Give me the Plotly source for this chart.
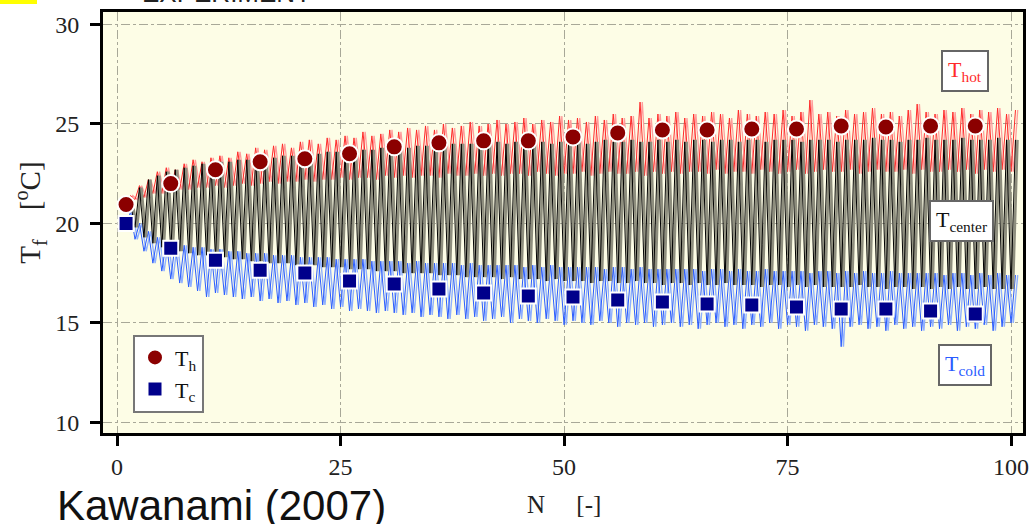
import numpy as np
import plotly.graph_objects as go

# ---------------- data ----------------
cycles = list(range(1, 101))

hot_peak = [21.4, 21.9, 22.2, 22.6, 22.8, 22.7, 23.0, 23.2, 23.1, 23.3,
            23.4, 23.3, 23.6, 23.5, 23.8, 23.7, 23.9, 24.0, 23.8, 24.1,
            24.2, 24.0, 24.3, 24.2, 24.4, 24.3, 24.6, 24.4, 24.5, 24.7,
            24.6, 24.8, 24.7, 24.9, 24.7, 25.0, 24.8, 24.9, 25.1, 24.9,
            25.0, 25.2, 25.0, 25.1, 25.3, 25.0, 25.2, 25.1, 25.4, 25.2,
            25.3, 25.1, 25.4, 25.2, 25.5, 25.3, 25.4, 26.1, 25.3, 25.5,
            25.4, 25.6, 25.3, 25.5, 25.4, 25.6, 25.5, 25.3, 25.7, 25.5,
            25.4, 25.6, 25.5, 25.7, 25.4, 25.6, 26.2, 25.5, 25.6, 25.4,
            25.7, 25.5, 25.6, 25.8, 25.5, 25.6, 25.4, 25.7, 26.0, 25.6,
            25.5, 25.7, 25.6, 25.8, 25.5, 25.7, 25.6, 25.8, 25.5, 25.7]
hot_trough = [20.9, 21.2, 21.3, 21.5, 21.5, 21.6, 21.7, 21.7, 21.8, 21.8,
              21.9, 21.8, 21.9, 22.0, 21.9, 22.0, 22.1, 22.0, 22.1, 22.1,
              22.2, 22.1, 22.2, 22.2, 22.3, 22.2, 22.3, 22.3, 22.2, 22.4,
              22.3, 22.4, 22.3, 22.4, 22.4, 22.3, 22.5, 22.4, 22.4, 22.5,
              22.4, 22.5, 22.4, 22.5, 22.5, 22.4, 22.6, 22.5, 22.4, 22.5,
              22.5, 22.6, 22.4, 22.5, 22.6, 22.5, 22.5, 22.6, 22.4, 22.6,
              22.5, 22.6, 22.5, 22.6, 22.6, 22.5, 22.7, 22.5, 22.6, 22.6,
              22.5, 22.7, 22.6, 22.5, 22.6, 22.7, 22.5, 22.6, 22.7, 22.6,
              22.6, 22.7, 22.5, 22.6, 22.7, 22.6, 22.6, 22.7, 22.5, 22.7,
              22.6, 22.6, 22.7, 22.6, 22.7, 22.5, 22.7, 22.6, 22.7, 22.6]

center_peak = [21.0, 21.8, 22.2, 22.4, 22.6, 22.7, 22.8, 22.9, 23.0, 23.0,
               23.1, 23.1, 23.2, 23.2, 23.3, 23.3, 23.3, 23.4, 23.4, 23.5,
               23.5, 23.5, 23.6, 23.6, 23.6, 23.7, 23.7, 23.7, 23.8, 23.8,
               23.8, 23.8, 23.9, 23.9, 23.9, 23.9, 24.0, 24.0, 24.0, 24.0,
               24.0, 24.1, 24.0, 24.1, 24.0, 24.1, 24.1, 24.0, 24.1, 24.1,
               24.1, 24.0, 24.1, 24.2, 24.1, 24.1, 24.2, 24.1, 24.1, 24.2,
               24.1, 24.2, 24.1, 24.2, 24.2, 24.1, 24.2, 24.2, 24.1, 24.2,
               24.2, 24.1, 24.2, 24.2, 24.2, 24.1, 24.2, 24.2, 24.2, 24.1,
               24.2, 24.2, 24.2, 24.3, 24.2, 24.2, 24.1, 24.2, 24.2, 24.3,
               24.2, 24.2, 24.2, 24.3, 24.2, 24.2, 24.2, 24.3, 24.2, 24.2]
center_trough = [20.6, 19.8, 19.3, 19.0, 18.8, 18.7, 18.6, 18.5, 18.4, 18.4,
                 18.3, 18.3, 18.2, 18.2, 18.1, 18.1, 18.0, 18.0, 18.0, 17.9,
                 17.9, 17.9, 17.8, 17.8, 17.8, 17.7, 17.7, 17.7, 17.6, 17.6,
                 17.6, 17.5, 17.5, 17.5, 17.5, 17.4, 17.4, 17.4, 17.3, 17.3,
                 17.3, 17.3, 17.2, 17.3, 17.2, 17.2, 17.2, 17.1, 17.2, 17.1,
                 17.1, 17.1, 17.0, 17.1, 17.1, 17.0, 17.0, 17.1, 17.0, 17.0,
                 16.9, 17.0, 17.0, 16.9, 17.0, 16.9, 16.9, 17.0, 16.9, 16.9,
                 16.9, 16.8, 16.9, 16.9, 16.8, 16.9, 16.8, 16.9, 16.8, 16.8,
                 16.8, 16.8, 16.9, 16.8, 16.8, 16.7, 16.8, 16.8, 16.7, 16.8,
                 16.7, 16.8, 16.7, 16.8, 16.7, 16.7, 16.8, 16.7, 16.7, 16.7]

cold_peak = [20.6, 20.0, 19.6, 19.3, 19.1, 19.0, 18.9, 18.8, 18.8, 18.7,
             18.7, 18.6, 18.6, 18.5, 18.5, 18.5, 18.4, 18.4, 18.4, 18.3,
             18.3, 18.3, 18.3, 18.2, 18.2, 18.2, 18.2, 18.1, 18.1, 18.1,
             18.1, 18.0, 18.1, 18.0, 18.0, 18.0, 18.0, 17.9, 18.0, 17.9,
             17.9, 17.9, 17.9, 17.9, 17.8, 17.9, 17.8, 17.9, 17.8, 17.8,
             17.8, 17.8, 17.8, 17.7, 17.8, 17.8, 17.7, 17.8, 17.7, 17.7,
             17.7, 17.7, 17.7, 17.7, 17.6, 17.7, 17.7, 17.6, 17.7, 17.6,
             17.6, 17.7, 17.6, 17.6, 17.6, 17.6, 17.5, 17.6, 17.6, 17.5,
             17.6, 17.5, 17.6, 17.5, 17.5, 17.6, 17.5, 17.5, 17.5, 17.5,
             17.5, 17.4, 17.5, 17.5, 17.4, 17.5, 17.4, 17.5, 17.4, 17.4]
cold_trough = [19.8, 19.2, 18.6, 18.0, 17.6, 17.2, 17.0, 16.8, 16.6, 16.3,
               16.5, 16.4, 16.3, 16.2, 16.3, 16.1, 16.2, 16.0, 16.1, 15.9,
               16.0, 15.8, 15.9, 15.7, 15.8, 15.6, 15.7, 15.6, 15.5, 15.6,
               15.5, 15.4, 15.5, 15.3, 15.4, 15.3, 15.2, 15.4, 15.2, 15.3,
               15.1, 15.2, 15.3, 15.0, 15.2, 15.1, 15.0, 15.2, 15.1, 14.9,
               15.1, 15.0, 14.9, 15.1, 15.0, 14.8, 15.0, 14.9, 15.0, 14.8,
               14.9, 15.0, 14.8, 14.9, 14.7, 14.9, 15.0, 14.8, 14.9, 14.7,
               14.9, 14.8, 15.0, 14.7, 14.9, 14.8, 14.6, 14.9, 14.8, 14.7,
               13.8, 14.8, 14.9, 14.7, 14.8, 14.6, 14.9, 14.7, 14.8, 14.6,
               14.8, 14.7, 14.9, 14.6, 14.8, 14.7, 14.9, 14.6, 14.8, 15.0]

marker_N = [1, 6, 11, 16, 21, 26, 31, 36, 41, 46,
            51, 56, 61, 66, 71, 76, 81, 86, 91, 96]
Th = [20.95, 22.0, 22.7, 23.1, 23.25, 23.5, 23.85, 24.05, 24.15, 24.15,
      24.35, 24.55, 24.7, 24.7, 24.75, 24.75, 24.9, 24.85, 24.9, 24.9]
Tc = [20.0, 18.75, 18.15, 17.65, 17.5, 17.1, 16.95, 16.7, 16.5, 16.35,
      16.3, 16.15, 16.05, 15.95, 15.9, 15.8, 15.7, 15.7, 15.6, 15.45]

x_ticks = [0, 25, 50, 75, 100]
y_ticks = [10, 15, 20, 25, 30]


def zigzag(lo, hi):
    c = np.array(cycles, dtype=float)
    x = np.empty(2 * len(c))
    y = np.empty(2 * len(c))
    x[0::2] = c
    x[1::2] = c + 0.5
    y[0::2] = lo
    y[1::2] = hi
    return x, y


SERIF = "Liberation Serif, Times New Roman, serif"
SANS = "Liberation Sans, Arial, sans-serif"
fig = go.Figure()

# hot (red), two shades
x, y = zigzag(hot_trough, hot_peak)
fig.add_trace(go.Scatter(x=x + 0.25, y=y, mode="lines", line=dict(color="#ff9c9c", width=1.3),
                         showlegend=False, hoverinfo="skip"))
fig.add_trace(go.Scatter(x=x, y=y, mode="lines", line=dict(color="#ff2a2a", width=1),
                         showlegend=False, hoverinfo="skip"))
# cold (blue), two shades
x, y = zigzag(cold_trough, cold_peak)
fig.add_trace(go.Scatter(x=x + 0.25, y=y, mode="lines", line=dict(color="#8fb0ff", width=1.4),
                         showlegend=False, hoverinfo="skip"))
fig.add_trace(go.Scatter(x=x, y=y, mode="lines", line=dict(color="#2a5cff", width=1),
                         showlegend=False, hoverinfo="skip"))
# center (gray band + black)
x, y = zigzag(center_trough, center_peak)
fig.add_trace(go.Scatter(x=x + 0.22, y=y, mode="lines", line=dict(color="#8e8e7e", width=2.6),
                         showlegend=False, hoverinfo="skip"))
fig.add_trace(go.Scatter(x=x, y=y, mode="lines", line=dict(color="#000000", width=1),
                         showlegend=False, hoverinfo="skip"))

# markers
fig.add_trace(go.Scatter(x=marker_N, y=Th, mode="markers", name="T<sub>h</sub>",
                         marker=dict(symbol="circle", size=17, color="#8b0000",
                                     line=dict(color="white", width=2))))
fig.add_trace(go.Scatter(x=marker_N, y=Tc, mode="markers", name="T<sub>c</sub>",
                         marker=dict(symbol="square", size=15, color="#00008b",
                                     line=dict(color="white", width=2))))

axis_common = dict(
    showline=True, linecolor="black", linewidth=3, mirror=True,
    ticks="outside", ticklen=10, tickwidth=3, tickcolor="black",
    showgrid=True, gridcolor="#a8a898", gridwidth=1, griddash="dashdot",
    zeroline=False, automargin=False,
    tickfont=dict(family=SERIF, size=24, color="#222"),
)
fig.update_xaxes(range=[-1.58, 101.34], tickvals=x_ticks, ticklabelstandoff=0, **axis_common)
fig.update_yaxes(range=[9.46, 30.63], tickvals=y_ticks, ticklabelstandoff=6, **axis_common)


def px2paper(px, py):
    return (px - 103) / 920.0, (433.5 - py) / 421.5


annotations = []
for txt, color, (px, py) in [("T<sub>hot</sub>", "#ff2a2a", (965, 71)),
                              ("T<sub>center</sub>", "#111111", (961, 221)),
                              ("T<sub>cold</sub>", "#2a5cff", (965, 365))]:
    xp, yp = px2paper(px, py)
    annotations.append(dict(x=xp, y=yp, xref="paper", yref="paper", text=txt, showarrow=False,
                            xanchor="center", yanchor="middle",
                            font=dict(family=SERIF, size=22, color=color),
                            bgcolor="white", bordercolor="#666666", borderwidth=2, borderpad=5))

# axis titles
xp, yp = px2paper(564, 505)
annotations.append(dict(x=xp, y=yp, xref="paper", yref="paper", showarrow=False,
                        xanchor="center", yanchor="middle",
                        text="N&nbsp;&nbsp;&nbsp;&nbsp;&nbsp;[-]", font=dict(family=SERIF, size=25, color="#222")))
xp, yp = px2paper(30, 213)
annotations.append(dict(x=xp, y=yp, xref="paper", yref="paper", showarrow=False, textangle=-90,
                        xanchor="center", yanchor="middle",
                        text="T<sub>f</sub>&nbsp;&nbsp;&nbsp;&nbsp;[<sup>o</sup>C]",
                        font=dict(family=SERIF, size=29, color="#222")))
# source text
xp, yp = px2paper(55, 524)
annotations.append(dict(x=xp, y=yp, xref="paper", yref="paper", showarrow=False,
                        xanchor="left", yanchor="bottom", yshift=-8,
                        text="Kawanami (2007)", font=dict(family=SANS, size=42, color="#111")))
# partial top title (mostly cut off at the page top)
xp, yp = px2paper(140, 0)
annotations.append(dict(x=xp, y=yp, xref="paper", yref="paper", showarrow=False,
                        xanchor="left", yanchor="bottom", yshift=-10,
                        text="EXPERIMENT", font=dict(family=SANS, size=26, color="#222")))

x0, y0 = px2paper(0, -10)
x1, y1 = px2paper(37, 4)
shapes = [dict(type="rect", xref="paper", yref="paper", x0=x0, y0=y0, x1=x1, y1=y1,
               fillcolor="#ffff00", line=dict(width=0), layer="above")]

lx, ly = px2paper(133, 335)
fig.update_layout(
    width=1035, height=524,
    margin=dict(l=103, r=12, t=12, b=90.5),
    paper_bgcolor="white", plot_bgcolor="#fdfde6",
    showlegend=True,
    legend=dict(x=lx, y=ly, xanchor="left", yanchor="top", bgcolor="white",
                bordercolor="#777777", borderwidth=2, itemwidth=30,
                font=dict(family=SERIF, size=22, color="#111"), tracegroupgap=0),
    annotations=annotations, shapes=shapes,
)

fig.write_html("out.html")
